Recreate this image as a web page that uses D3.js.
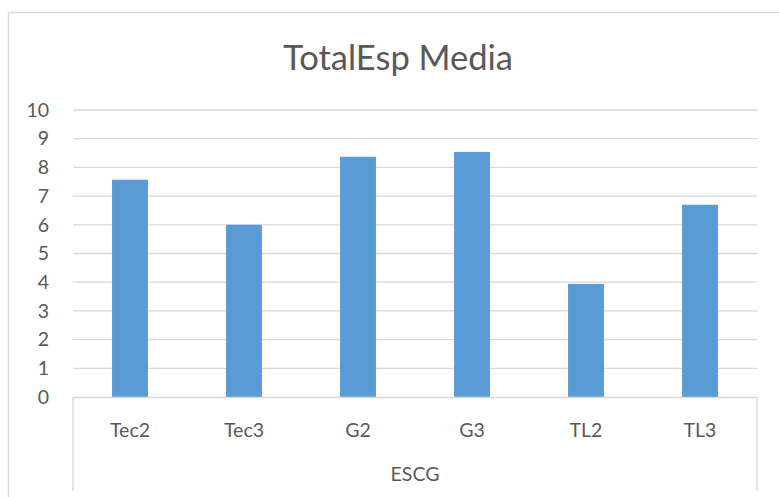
<!DOCTYPE html>
<html>
<head>
<meta charset="utf-8">
<script src="https://cdn.jsdelivr.net/npm/d3@7"></script>
<style>
  html, body { margin: 0; padding: 0; background: #fff; }
  svg { display: block; }
  text { font-family: Lato, "Open Sans", sans-serif; fill: #595959; }
</style>
</head>
<body>
<svg id="chart" width="779" height="497"></svg>
<script>
// Mean TotalEsp per group
const categories = ["Tec2", "Tec3", "G2", "G3", "TL2", "TL3"];
const values = [7.57, 6.0, 8.37, 8.54, 3.94, 6.70];
const yTicks = [0, 1, 2, 3, 4, 5, 6, 7, 8, 9, 10];
const groupLabel = "ESCG";
const title = "TotalEsp Media";

const svg = d3.select("#chart");
const W = 779, H = 497;
const plot = { left: 73, right: 757, top: 110, bottom: 397 };
const labelFont = "19.5px";

// outer chart frame
svg.append("rect")
  .attr("x", 8.5).attr("y", 12.5)
  .attr("width", W + 20).attr("height", H + 20)
  .attr("fill", "#fff").attr("stroke", "#d9d9d9").attr("stroke-width", 1.5);

const x = d3.scaleBand().domain(categories).range([plot.left, plot.right]).padding(0);
const y = d3.scaleLinear().domain([0, 10]).range([plot.bottom, plot.top]);
const barFrac = 0.315;

// gridlines
svg.append("g")
  .selectAll("line").data(yTicks.filter(d => d > 0)).join("line")
  .attr("x1", plot.left).attr("x2", plot.right)
  .attr("y1", d => y(d)).attr("y2", d => y(d))
  .attr("stroke", "#d9d9d9").attr("stroke-width", 1.3);

// y axis labels
const yAxis = d3.axisLeft(y).tickValues(yTicks).tickSize(0).tickPadding(0);
const gy = svg.append("g").attr("transform", `translate(${plot.left - 24},0)`).call(yAxis);
gy.select(".domain").remove();
gy.selectAll("text")
  .style("font-family", "Lato, 'Open Sans', sans-serif")
  .style("font-size", labelFont).attr("fill", "#595959");

// bars
svg.append("g")
  .selectAll("rect").data(categories).join("rect")
  .attr("x", d => x(d) + x.bandwidth() * (1 - barFrac) / 2)
  .attr("width", x.bandwidth() * barFrac)
  .attr("y", (d, i) => y(values[i]))
  .attr("height", (d, i) => y(0) - y(values[i]))
  .attr("fill", "#5b9bd5");

// category axis box
const axisG = svg.append("g");
axisG.append("line")
  .attr("x1", plot.left).attr("x2", plot.right)
  .attr("y1", y(0) + 0.5).attr("y2", y(0) + 0.5)
  .attr("stroke", "#d9d9d9").attr("stroke-width", 1.3);
[plot.left, plot.right].forEach(px => {
  axisG.append("line")
    .attr("x1", px).attr("x2", px)
    .attr("y1", y(0)).attr("y2", 491)
    .attr("stroke", "#d9d9d9").attr("stroke-width", 1.3);
});

const xAxis = d3.axisBottom(x).tickSize(0).tickPadding(0);
const gx = svg.append("g").attr("transform", `translate(0,${y(0) + 26})`).call(xAxis);
gx.select(".domain").remove();
gx.selectAll("text")
  .style("font-family", "Lato, 'Open Sans', sans-serif")
  .style("font-size", labelFont).attr("fill", "#595959")
  .attr("dy", "0.71em");

svg.append("text")
  .attr("x", (plot.left + plot.right) / 2).attr("y", 481)
  .attr("text-anchor", "middle")
  .style("font-size", labelFont)
  .text(groupLabel);

svg.append("text")
  .attr("x", 398).attr("y", 70)
  .attr("text-anchor", "middle")
  .style("font-size", "34.5px")
  .text(title);
</script>
</body>
</html>
